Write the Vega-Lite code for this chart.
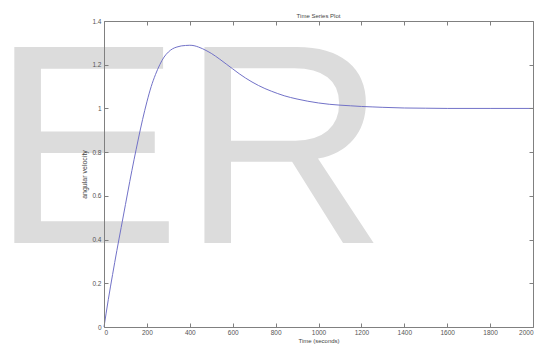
{
  "$schema": "https://vega.github.io/schema/vega-lite/v6.json",
  "autosize": "none",
  "width": 429,
  "height": 306,
  "padding": {"left": 104, "top": 21, "right": 6, "bottom": 20},
  "background": "white",
  "title": {
    "text": "Time Series Plot",
    "font": "Liberation Sans",
    "fontSize": 6,
    "fontWeight": "normal",
    "color": "#444444",
    "anchor": "middle",
    "offset": -4
  },
  "config": {
    "view": {"stroke": null},
    "axis": {
      "domainColor": "#808080",
      "tickColor": "#808080",
      "labelFont": "Liberation Sans",
      "labelFontSize": 6.5,
      "labelColor": "#555555",
      "titleFont": "Liberation Sans",
      "titleFontSize": 6,
      "titleFontWeight": "normal",
      "titleColor": "#444444",
      "grid": false,
      "tickSize": -4
    }
  },
  "datasets": {
    "watermark": [{"word": "ER", "t": -527, "v": 0.384}],
    "response": [
      {"t": 0, "v": 0},
      {"t": 20, "v": 0.125},
      {"t": 40, "v": 0.24},
      {"t": 60, "v": 0.35},
      {"t": 80, "v": 0.455},
      {"t": 100, "v": 0.56},
      {"t": 120, "v": 0.665},
      {"t": 140, "v": 0.765},
      {"t": 160, "v": 0.86},
      {"t": 180, "v": 0.95},
      {"t": 200, "v": 1.03},
      {"t": 220, "v": 1.1},
      {"t": 240, "v": 1.155},
      {"t": 260, "v": 1.2},
      {"t": 280, "v": 1.235},
      {"t": 300, "v": 1.258},
      {"t": 320, "v": 1.273},
      {"t": 340, "v": 1.281},
      {"t": 360, "v": 1.286},
      {"t": 380, "v": 1.288},
      {"t": 400, "v": 1.289},
      {"t": 420, "v": 1.287},
      {"t": 440, "v": 1.281},
      {"t": 460, "v": 1.273},
      {"t": 480, "v": 1.263},
      {"t": 500, "v": 1.252},
      {"t": 520, "v": 1.239},
      {"t": 540, "v": 1.225},
      {"t": 570, "v": 1.203},
      {"t": 600, "v": 1.181},
      {"t": 630, "v": 1.159},
      {"t": 660, "v": 1.139},
      {"t": 690, "v": 1.121},
      {"t": 720, "v": 1.105},
      {"t": 750, "v": 1.091},
      {"t": 780, "v": 1.079},
      {"t": 810, "v": 1.068},
      {"t": 840, "v": 1.058},
      {"t": 870, "v": 1.05},
      {"t": 900, "v": 1.043},
      {"t": 950, "v": 1.033},
      {"t": 1000, "v": 1.025},
      {"t": 1050, "v": 1.019},
      {"t": 1100, "v": 1.015},
      {"t": 1150, "v": 1.012},
      {"t": 1200, "v": 1.009},
      {"t": 1250, "v": 1.007},
      {"t": 1300, "v": 1.005},
      {"t": 1400, "v": 1.002},
      {"t": 1500, "v": 1.001},
      {"t": 1600, "v": 1.0},
      {"t": 1800, "v": 1.0},
      {"t": 2000, "v": 1.0}
    ]
  },
  "layer": [
    {
      "data": {"name": "watermark"},
      "mark": {
        "type": "text",
        "font": "Liberation Sans",
        "fontSize": 285,
        "color": "#dcdcdc",
        "align": "left",
        "baseline": "alphabetic",
        "clip": false
      },
      "encoding": {
        "x": {
          "field": "t",
          "type": "quantitative",
          "scale": {"domain": [0, 2000], "nice": false, "zero": false},
          "axis": {"orient": "top", "values": [0, 200, 400, 600, 800, 1000, 1200, 1400, 1600, 1800, 2000], "labels": false, "title": null, "zindex": 1}
        },
        "y": {
          "field": "v",
          "type": "quantitative",
          "scale": {"domain": [0, 1.4], "nice": false, "zero": false},
          "axis": {"orient": "right", "values": [0, 0.2, 0.4, 0.6, 0.8, 1, 1.2, 1.4], "labels": false, "title": null, "zindex": 1}
        },
        "text": {"field": "word"}
      }
    },
    {
      "data": {"name": "response"},
      "mark": {"type": "line", "color": "#7272c8", "strokeWidth": 1, "interpolate": "monotone"},
      "encoding": {
        "x": {
          "field": "t",
          "type": "quantitative",
          "axis": {
            "orient": "bottom",
            "values": [0, 200, 400, 600, 800, 1000, 1200, 1400, 1600, 1800, 2000],
            "format": "d",
            "labelPadding": 6,
            "title": "Time (seconds)",
            "titlePadding": 2,
            "zindex": 1
          }
        },
        "y": {
          "field": "v",
          "type": "quantitative",
          "axis": {
            "orient": "left",
            "values": [0, 0.2, 0.4, 0.6, 0.8, 1, 1.2, 1.4],
            "format": "~g",
            "labelPadding": 7,
            "title": "angular velocity",
            "titleFontSize": 7,
            "titlePadding": 4,
            "zindex": 1
          }
        }
      }
    }
  ],
  "resolve": {"axis": {"x": "independent", "y": "independent"}}
}
